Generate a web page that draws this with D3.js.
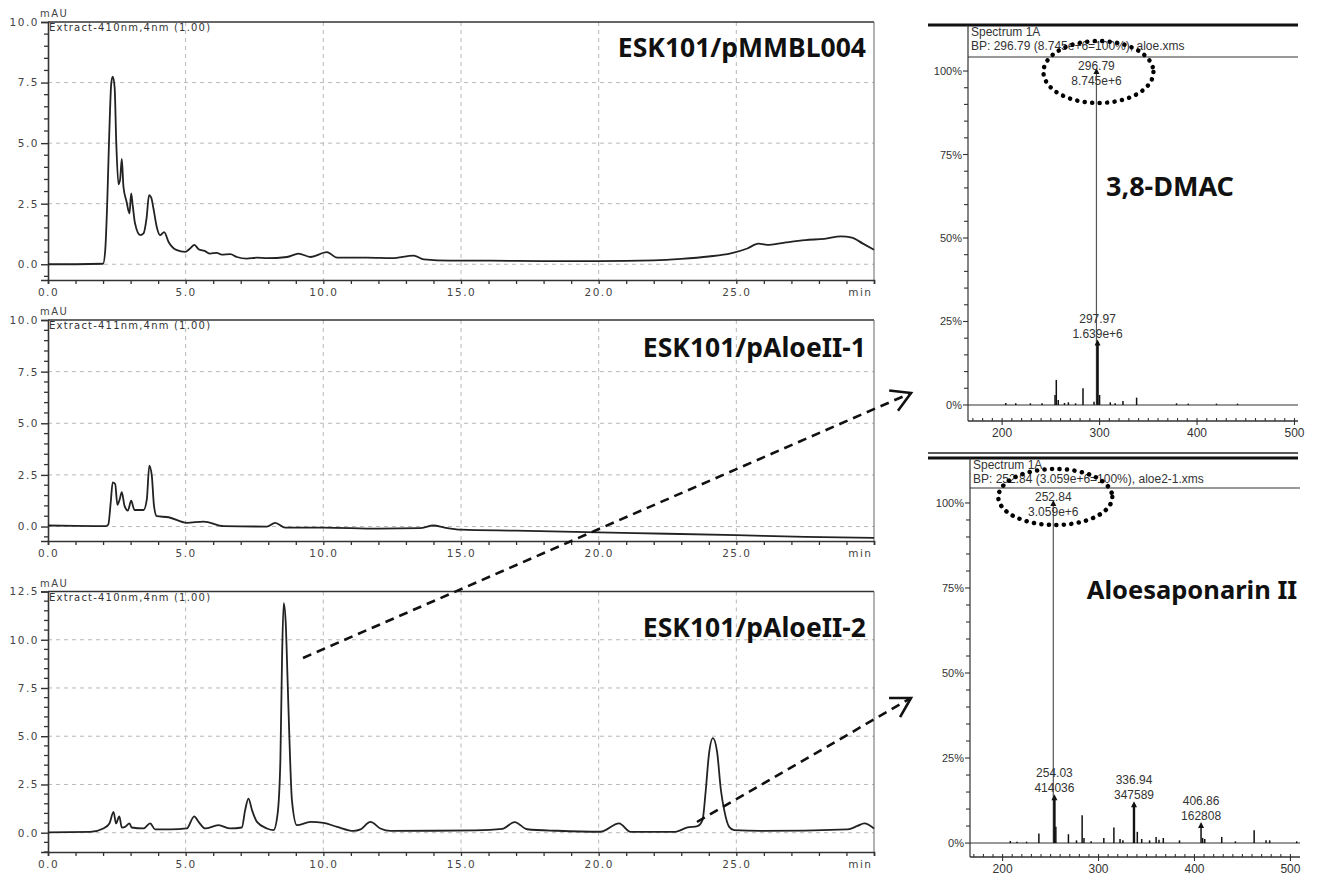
<!DOCTYPE html>
<html><head><meta charset="utf-8">
<script src="https://cdn.jsdelivr.net/npm/d3@7"></script>
<style>body{margin:0;background:#fff;} svg{display:block;}</style>
</head><body><svg id="c" width="1321" height="877"></svg>
<script>
// ---------------- DATA ----------------
const xTickValues = [0, 5, 10, 15, 20, 25, 30];
const xTickLabels = ["0.0", "5.0", "10.0", "15.0", "20.0", "25.0", "min"];
const yTicks1 = [0, 2.5, 5, 7.5, 10];
const yTicks2 = [0, 2.5, 5, 7.5, 10];
const yTicks3 = [0, 2.5, 5, 7.5, 10, 12.5];
const panelTitles = ["ESK101/pMMBL004", "ESK101/pAloeII-1", "ESK101/pAloeII-2"];
const extractLabels = ["Extract-410nm,4nm (1.00)", "Extract-411nm,4nm (1.00)", "Extract-410nm,4nm (1.00)"];

const trace1 = [[0,0],[1,0],[2.0,0.02],[2.08,0.6],[2.15,2.5],[2.22,5.2],[2.3,7.5],[2.35,7.74],[2.42,7.3],[2.48,5.0],[2.56,3.3],[2.62,3.5],[2.68,4.35],[2.74,3.2],[2.85,2.6],[2.96,2.1],[3.02,2.92],[3.08,2.4],[3.16,1.69],[3.35,1.2],[3.47,1.27],[3.58,1.9],[3.67,2.85],[3.75,2.75],[3.83,2.3],[3.95,1.54],[4.07,1.2],[4.22,1.33],[4.38,0.92],[4.68,0.58],[4.98,0.51],[5.16,0.65],[5.32,0.8],[5.47,0.62],[5.69,0.55],[5.89,0.44],[6.13,0.47],[6.31,0.4],[6.62,0.42],[6.86,0.3],[7.22,0.23],[7.59,0.27],[7.95,0.25],[8.68,0.3],[9.1,0.44],[9.53,0.3],[10.13,0.5],[10.5,0.27],[11.59,0.27],[12.5,0.25],[13.28,0.36],[13.65,0.2],[14.6,0.15],[16,0.15],[18,0.13],[20,0.13],[22,0.16],[23,0.22],[24,0.32],[24.8,0.45],[25.4,0.65],[25.8,0.85],[26.2,0.8],[26.8,0.9],[27.5,1.0],[28.2,1.05],[28.8,1.15],[29.2,1.1],[29.6,0.85],[30,0.6]];

const trace2 = [[0,0.05],[1,0.03],[2.1,0.02],[2.19,0.1],[2.28,1.2],[2.35,2.14],[2.44,2.06],[2.52,1.05],[2.6,1.3],[2.68,1.66],[2.78,1.0],[2.9,0.77],[3.02,1.25],[3.14,0.8],[3.47,0.8],[3.59,1.33],[3.68,2.95],[3.77,2.47],[3.85,1.0],[3.95,0.5],[4.38,0.45],[5.04,0.18],[5.65,0.24],[6.38,0.02],[7.95,0.0],[8.25,0.18],[8.62,-0.05],[10,-0.05],[12,-0.1],[13.5,-0.08],[14,0.05],[14.4,-0.05],[15,-0.15],[17,-0.2],[20,-0.28],[22.5,-0.35],[25,-0.42],[27.5,-0.5],[30,-0.55]];

const trace3 = [[0,0.02],[1.53,0.04],[2.01,0.22],[2.23,0.48],[2.38,1.08],[2.47,0.48],[2.59,0.85],[2.68,0.27],[2.8,0.3],[2.96,0.48],[3.04,0.27],[3.47,0.22],[3.71,0.48],[3.89,0.17],[4.44,0.17],[5.04,0.22],[5.31,0.85],[5.47,0.56],[5.71,0.22],[6.19,0.39],[6.62,0.22],[7.04,0.27],[7.16,1.17],[7.28,1.77],[7.41,1.17],[7.59,0.56],[7.95,0.22],[8.19,0.13],[8.34,0.99],[8.44,3.76],[8.5,9.0],[8.56,11.9],[8.63,11.0],[8.7,8.0],[8.77,4.79],[8.86,1.68],[9.04,0.39],[9.53,0.56],[10.01,0.51],[10.5,0.3],[11.1,0.09],[11.35,0.17],[11.71,0.56],[12.07,0.22],[12.44,0.09],[14,0.1],[15.5,0.12],[16.5,0.2],[16.95,0.55],[17.4,0.18],[18.5,0.1],[20.07,0.05],[20.74,0.48],[21.16,0.04],[22.74,0.04],[23.23,0.27],[23.59,0.34],[23.77,0.65],[23.89,2.2],[24.0,4.0],[24.15,4.9],[24.3,4.2],[24.44,2.2],[24.56,1.17],[24.74,0.3],[24.92,0.13],[25.89,0.09],[29.04,0.17],[29.4,0.35],[29.65,0.48],[30,0.22]];

const specXTicks = [200, 300, 400, 500];
const specYTicks = [0, 25, 50, 75, 100];
const specTitles = ["3,8-DMAC", "Aloesaponarin II"];
const spec1Header = ["Spectrum 1A", "BP: 296.79 (8.745e+6=100%), aloe.xms"];
const spec2Header = ["Spectrum 1A", "BP: 252.84 (3.059e+6=100%), aloe2-1.xms"];
const spec1Peaks = [[203.8,0.6],[214,0.5],[229,0.5],[241,0.5],[254.3,3],[255.6,7.5],[257.6,1.5],[264,0.6],[268,0.8],[275.4,0.5],[283,5],[294.3,1],[296.79,100],[297.97,18.7],[300,3],[311,0.8],[316,0.5],[324,1.2],[338,2.2],[379,0.5],[391,0.4],[420,0.4],[441.5,0.4]];
const spec1Labels = [[296.79,100,"296.79","8.745e+6"],[297.97,18.7,"297.97","1.639e+6"]];
const spec2Peaks = [[208,0.6],[215,0.4],[225,0.4],[237.8,2.8],[252.84,100],[254.03,13.5],[255.5,4.8],[268.6,2.6],[277,0.8],[282.9,8.2],[284.8,1.5],[292.3,0.5],[305.5,1.5],[316,4.6],[322.4,1.2],[325.4,0.8],[336.94,11.4],[340.4,3.3],[345,1.2],[353.2,0.8],[360,1.8],[363,1.0],[367.5,1.5],[384.4,0.8],[406.86,5.3],[408.5,1.5],[410.7,1.2],[428.4,1.8],[442.7,0.5],[462.2,3.8],[474.6,0.8],[478.4,0.8],[506.6,0.5]];
const spec2Labels = [[252.84,100,"252.84","3.059e+6"],[254.03,13.5,"254.03","414036"],[336.94,11.4,"336.94","347589"],[406.86,5.3,"406.86","162808"]];

// ---------------- DRAW ----------------
const svg = d3.select("#c");
const defs = svg.append("defs");
defs.append("marker").attr("id","ah").attr("viewBox","-22 -14 26 28")
  .attr("refX",0).attr("refY",0).attr("markerWidth",26).attr("markerHeight",28)
  .attr("orient","auto").attr("markerUnits","userSpaceOnUse")
  .append("path").attr("d","M-19,-11 L0,0 L-19,11").attr("fill","none")
  .attr("stroke","#111").attr("stroke-width",2.6).attr("stroke-linejoin","miter");

const CF = "'DejaVu Sans', sans-serif";
const xC = d3.scaleLinear().domain([0,30]).range([48,874]);

const panels = [
  {trace: trace1, ticks: yTicks1, dom: [-0.65,10], rng: [280,22]},
  {trace: trace2, ticks: yTicks2, dom: [-0.7,10], rng: [541,320]},
  {trace: trace3, ticks: yTicks3, dom: [-1.0,12.5], rng: [852,591.5]}
];

panels.forEach((p, i) => {
  const y = d3.scaleLinear().domain(p.dom).range(p.rng);
  const g = svg.append("g");
  const top = p.rng[1], bot = p.rng[0];
  const yMax = p.dom[1];
  // grid
  xTickValues.filter(v => v > 0 && v < 30).forEach(v => {
    g.append("line").attr("x1",xC(v)).attr("x2",xC(v)).attr("y1",top).attr("y2",bot)
      .attr("stroke","#b8b8b8").attr("stroke-width",1).attr("stroke-dasharray","4,4");
  });
  p.ticks.filter(v => v < yMax).forEach(v => {
    g.append("line").attr("x1",xC(0)).attr("x2",xC(30)).attr("y1",y(v)).attr("y2",y(v))
      .attr("stroke","#b8b8b8").attr("stroke-width",1).attr("stroke-dasharray","4,4");
  });
  // frame
  g.append("line").attr("x1",xC(0)).attr("x2",xC(30)).attr("y1",top).attr("y2",top).attr("stroke","#333").attr("stroke-width",1.6);
  g.append("line").attr("x1",xC(30)).attr("x2",xC(30)).attr("y1",top).attr("y2",bot).attr("stroke","#666").attr("stroke-width",1);
  // y axis
  const yAx = d3.axisLeft(y).tickValues(p.ticks).tickFormat(d3.format(".1f")).tickSize(7).tickPadding(2);
  const ga = g.append("g").attr("transform",`translate(${xC(0)},0)`).call(yAx);
  ga.select(".domain").attr("stroke","#333").attr("stroke-width",1.6);
  ga.selectAll(".tick line").attr("stroke","#333").attr("stroke-width",1.4);
  ga.selectAll("text").attr("font-family",CF).attr("font-size",10.5).attr("letter-spacing","1.5px").attr("fill","#444");
  const minor = d3.range(Math.ceil(p.dom[0]*2)/2, yMax, 0.5).filter(v => !p.ticks.includes(v));
  minor.forEach(v => g.append("line").attr("x1",xC(0)-4).attr("x2",xC(0)).attr("y1",y(v)).attr("y2",y(v)).attr("stroke","#333").attr("stroke-width",1.3));
  // x axis
  const xAx = d3.axisBottom(xC).tickValues(d3.range(0,31,1)).tickSize(4)
    .tickFormat(d => { const k = xTickValues.indexOf(d); return k >= 0 ? xTickLabels[k] : ""; }).tickPadding(5);
  const gx = g.append("g").attr("transform",`translate(0,${bot})`).call(xAx);
  gx.select(".domain").attr("stroke","#333").attr("stroke-width",1.6);
  gx.selectAll(".tick line").attr("stroke","#333").attr("stroke-width",1.3);
  gx.selectAll("text").attr("font-family",CF).attr("font-size",10.5).attr("letter-spacing","1.5px").attr("fill","#444");
  gx.selectAll(".tick").filter(d => d === 30).select("text").attr("text-anchor","end").attr("dx",-2);
  // labels
  g.append("text").attr("x",xC(0)-8).attr("y",top-5).text("mAU").attr("font-family",CF).attr("font-size",10).attr("letter-spacing","1.5px").attr("fill","#444");
  g.append("text").attr("x",xC(0)+1).attr("y",top+9).text(extractLabels[i]).attr("font-family",CF).attr("font-size",10).attr("letter-spacing","1.2px").attr("fill","#333");
  // trace
  const line = d3.line().x(d => xC(d[0])).y(d => y(d[1])).curve(d3.curveMonotoneX);
  g.append("path").datum(p.trace).attr("d",line).attr("fill","none").attr("stroke","#222").attr("stroke-width",1.8).attr("stroke-linejoin","round");
  // title
  g.append("text").attr("x",866).attr("y",top + [35,37,45][i]).attr("text-anchor","end")
    .text(panelTitles[i]).attr("font-family","'Noto Sans', sans-serif").attr("font-weight","bold").attr("font-size",26.5).attr("fill","#111");
});

// ---- spectra ----
const SF = "'Liberation Sans', Arial, sans-serif";
const specs = [
  {peaks: spec1Peaks, labels: spec1Labels, header: spec1Header, xd:[165,503.6], xr:[968,1298], yd:[-4.8,104.2], yr:[421,57], headTop:25, double:false},
  {peaks: spec2Peaks, labels: spec2Labels, header: spec2Header, xd:[166,510], xr:[970,1300], yd:[-4.1,104.4], yr:[857,488], headTop:458, double:true}
];
specs.forEach((s, i) => {
  const x = d3.scaleLinear().domain(s.xd).range(s.xr);
  const y = d3.scaleLinear().domain(s.yd).range(s.yr);
  const g = svg.append("g");
  const L = s.xr[0], R = s.xr[1], T = s.yr[1], B = s.yr[0];
  // header
  g.append("line").attr("x1",928).attr("x2",1298).attr("y1",s.headTop).attr("y2",s.headTop).attr("stroke","#111").attr("stroke-width",3.2);
  if (s.double) g.append("line").attr("x1",928).attr("x2",1298).attr("y1",s.headTop-5).attr("y2",s.headTop-5).attr("stroke","#222").attr("stroke-width",1.6);
  g.append("line").attr("x1",L).attr("x2",L).attr("y1",s.headTop).attr("y2",B).attr("stroke","#333").attr("stroke-width",1.2);
  g.append("line").attr("x1",L).attr("x2",R).attr("y1",T).attr("y2",T).attr("stroke","#333").attr("stroke-width",1.2);
  g.append("text").attr("x",L+3).attr("y",s.headTop+11).text(s.header[0]).attr("font-family",SF).attr("font-size",12).attr("fill","#333");
  g.append("text").attr("x",L+3).attr("y",s.headTop+25).text(s.header[1]).attr("font-family",SF).attr("font-size",12).attr("fill","#333");
  // y axis ticks
  d3.range(-5, 101, 5).filter(v => v >= s.yd[0]).forEach(v => {
    const maj = specYTicks.includes(v);
    g.append("line").attr("x1",L-(maj?5:4)).attr("x2",L).attr("y1",y(v)).attr("y2",y(v)).attr("stroke","#333").attr("stroke-width",1.1);
  });
  specYTicks.forEach(v => g.append("text").attr("x",L-6).attr("y",y(v)+4).attr("text-anchor","end").text(v+"%").attr("font-family",SF).attr("font-size",11).attr("fill","#333"));
  // zero line
  g.append("line").attr("x1",L).attr("x2",R).attr("y1",y(0)).attr("y2",y(0)).attr("stroke","#333").attr("stroke-width",1.1);
  // x axis
  g.append("line").attr("x1",L).attr("x2",R).attr("y1",B).attr("y2",B).attr("stroke","#333").attr("stroke-width",1.3);
  d3.range(170, s.xd[1], 10).forEach(v => {
    const maj = specXTicks.includes(v);
    g.append("line").attr("x1",x(v)).attr("x2",x(v)).attr("y1",B-3).attr("y2",B+(maj?4:0)).attr("stroke","#333").attr("stroke-width",1.1);
  });
  specXTicks.forEach(v => g.append("text").attr("x",x(v)).attr("y",B+16).attr("text-anchor","middle").text(v).attr("font-family",SF).attr("font-size",12).attr("fill","#333"));
  // peaks
  g.selectAll(".pk").data(s.peaks).enter().append("line")
    .attr("x1",d => x(d[0])).attr("x2",d => x(d[0])).attr("y1",y(0)).attr("y2",d => y(d[1]))
    .attr("stroke",d => d[1] >= 99 ? "#555" : "#111").attr("stroke-width",d => d[1] >= 99 ? 1.2 : (d[1] > 10 ? 2.4 : 1.5));
  // labels
  s.labels.forEach(l => {
    const px = x(l[0]), py = y(l[1]);
    g.append("path").attr("d",`M${px-3},${py+3}L${px},${py-3}L${px+3},${py+3}Z`).attr("fill","#111");
    const b1 = Math.max(py - 20, T + 13);
    g.append("text").attr("x",px).attr("y",b1).attr("text-anchor","middle").text(l[2]).attr("font-family",SF).attr("font-size",12).attr("fill","#333");
    g.append("text").attr("x",px).attr("y",b1+15).attr("text-anchor","middle").text(l[3]).attr("font-family",SF).attr("font-size",12).attr("fill","#333");
  });
  // dotted ellipse around base peak
  const bp = s.labels[0];
  g.append("ellipse").attr("cx",x(bp[0])+2).attr("cy",T+[15,9][i]).attr("rx",[55,57][i]).attr("ry",[31,28][i])
    .attr("fill","none").attr("stroke","#000").attr("stroke-width",4.5).attr("stroke-linecap","round").attr("stroke-dasharray","0.1,7.4");
  // title
  g.append("text").attr("x",[1170,1192][i]).attr("y",[196,599][i]).attr("text-anchor","middle").text(specTitles[i])
    .attr("font-family","'Noto Sans', sans-serif").attr("font-weight","bold").attr("font-size",[27,25.5][i]).attr("fill","#111");
});

// ---- arrows ----
const arrows = [[[303,658],[911,393]],[[697,822],[911,698]]];
arrows.forEach(a => {
  svg.append("line").attr("x1",a[0][0]).attr("y1",a[0][1]).attr("x2",a[1][0]).attr("y2",a[1][1])
    .attr("stroke","#111").attr("stroke-width",2.6).attr("stroke-dasharray","9,6").attr("marker-end","url(#ah)");
});
</script></body></html>
